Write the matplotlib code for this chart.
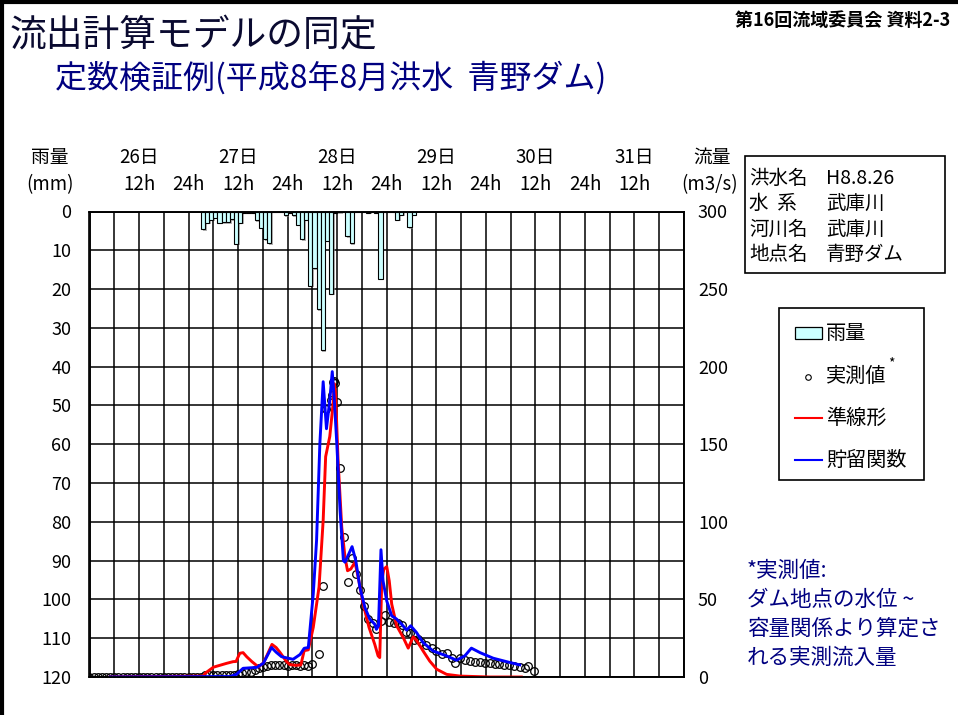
import numpy as np
import matplotlib
matplotlib.use("Agg")
import matplotlib.pyplot as plt
import matplotlib.patheffects as pe
from matplotlib.patches import Rectangle
from matplotlib.lines import Line2D

plt.rcParams['font.family'] = ['Noto Sans CJK JP', 'DejaVu Sans']

# 時間 (h): 26日 0時 = 0
rain_t = np.arange(27, 79)
rain_mm = [4.5, 2.9, 2.1, 1.6, 2.9, 2.7, 2.7, 1.9, 8.3, 2.9,
           0.3, 0.3, 0.3, 2.3, 4.2, 7.2, 8.1, 0, 0, 0,
           1.0, 0.3, 1.0, 3.4, 7.2, 2.1, 19.1, 14.6, 25.1, 35.7,
           7.5, 21.2, 0.3, 0.2, 0, 6.4, 8.1, 0, 0, 0,
           0.3, 0, 0.3, 17.3, 0, 0, 0, 2.1, 0.8, 0,
           4.0, 0.8]

obs_t = list(range(0, 55)) + [
    55.6, 56.6, 57.4, 58.6, 58.8, 59.1, 59.3, 59.5, 59.9, 60.7,
    61.6, 62.7, 63.6, 64.5, 65.6, 66.5, 67.5, 68.6, 69.5, 70.6,
    71.5, 72.6, 73.7, 74.8, 75.6, 76.6, 77.6, 78.5, 79.5, 80.4,
    81.6, 82.9, 84.0, 85.3, 86.5, 87.7, 88.5, 89.7, 90.9, 92.1,
    93.3, 94.5, 95.7, 96.9, 98.1, 99.3, 100.5, 101.7, 102.9, 104.2,
    105.4, 106.3, 107.6]
obs_q = [0.3] * 28 + [1.0] * 8 + [
    2.0, 2.4, 3.0, 3.4, 4.5, 5.6, 6.6, 7.3, 7.7, 7.5,
    7.7, 7.5, 7.3, 7.7, 7.5, 7.3, 7.5, 7.0, 8.4] + [
    14.7, 58.6, 172.5, 178.5, 182, 190, 190.5, 189.5, 177, 135,
    90.5, 61.2, 76.7, 66.4, 56, 45.8, 37.2, 35, 30.7, 36.3,
    40, 35.6, 35.1, 34.6, 33.6, 29.2, 28.2, 23.8, 24.4, 22.8,
    20.6, 18.5, 16.8, 15.1, 15.7, 12.5, 9.3, 12.1, 10.8, 10.3,
    9.9, 9.5, 9.2, 8.9, 8.5, 8.2, 7.9, 7.5, 7.0, 6.5,
    5.6, 7.1, 3.9]

red_t = [5, 27.6, 28.0, 30.0, 33.2, 34.8, 35.5, 36.4, 37.2, 38.1,
         39.3, 40.9, 42.1, 43.0, 44.2, 45.2, 46.1, 47.7, 48.5, 50.0,
         51.2, 52.0, 53.0, 54.2, 55.6, 56.6, 57.2, 58.2, 59.0, 59.3,
         59.6, 60.2, 61.1, 61.9, 62.5, 63.3, 64.3, 65.1, 66.3, 67.7,
         69.1, 69.9, 70.3, 70.8, 71.3, 72.0, 72.6, 73.2, 74.4, 76.0,
         77.2, 78.4, 79.2, 80.8, 82.4, 84.1, 86.5, 89.7, 97.0, 104.6]
red_q = [0, 0.6, 2.4, 6.3, 8.8, 9.9, 10, 15.3, 15.7, 13,
         10, 6.5, 9, 14, 21, 19, 16, 10, 8, 7.5,
         7.8, 17, 17.5, 32, 58, 101, 142, 155, 176, 189,
         183, 140, 96.5, 77, 68.5, 69.6, 74, 64, 47, 32,
         21, 13.6, 12.5, 62, 69.6, 71.1, 62, 47, 33, 25.4,
         18.6, 25.9, 23.7, 16.8, 10.3, 5, 1.7, 0.6, 0, 0]

blue_t = [5, 34.0, 35.6, 37.2, 40.5, 42.1, 44.1, 45.2, 46.5, 49.3,
          51.0, 52.0, 53.0, 54.2, 55.0, 55.8, 56.6, 57.4, 58.2, 58.8,
          59.3, 59.9, 60.7, 61.5, 61.9, 62.8, 63.6, 64.5, 65.5, 66.7,
          67.9, 69.1, 69.5, 70.0, 70.6, 71.1, 72.0, 73.2, 74.4, 75.6,
          76.8, 77.8, 79.2, 80.8, 83.2, 86.5, 88.9, 90.9, 92.5, 94.6,
          97.8, 101.0, 104.2]
blue_q = [0, 0.3, 1.7, 5.6, 6.2, 8.8, 19, 16, 13.1, 11.4,
          14.5, 18.5, 19, 53.5, 88, 150.5, 190.3, 160, 178.5, 196.8,
          178.5, 150.5, 107, 75, 74, 79.3, 84, 75, 57.7, 44.8,
          37.3, 34, 30.7, 33, 82, 62, 49, 39.4, 37.3, 34.1,
          30.2, 33, 28.7, 22.2, 16.8, 13.6, 10.8, 13.6, 18.6, 15.7,
          12.1, 9.9, 7.8]

days = ['26日', '27日', '28日', '29日', '30日', '31日']
hours = ['12h', '24h'] * 5 + ['12h']

W, H = 958, 715


def fx(x):
    return x / W


def fy(y):
    return 1 - y / H


fig = plt.figure(figsize=(W / 100, H / 100), dpi=100)
fig.patch.set_facecolor('white')

L, R, T, B = 89.5, 684, 211.5, 677
ax = fig.add_axes([fx(L), fy(B), (R - L) / W, (B - T) / H])
ax2 = ax.twinx()

# 雨量 (上から下向き)
ax.bar(rain_t, rain_mm, width=1, align='edge', color='#CCFFFF',
       edgecolor='black', linewidth=0.8, zorder=3,
       path_effects=[pe.SimplePatchShadow(offset=(1.2, -1.2), shadow_rgbFace='gray', alpha=0.6),
                     pe.Normal()])
ax.set_xlim(0, 144)
ax.set_ylim(120, 0)
ax.set_xticks(np.arange(0, 145, 6))
ax.set_yticks(np.arange(0, 121, 10))
ax.grid(True, color='black', linewidth=1.1)
ax.set_axisbelow(True)
ax.tick_params(axis='x', length=0, labelbottom=False)
ax.tick_params(axis='y', length=0, pad=13, labelsize=13)

# 流量
ax2.plot(obs_t, obs_q, linestyle='none', marker='o', markersize=5.5,
         markerfacecolor='none', markeredgecolor='black', markeredgewidth=0.9)
ax2.plot(red_t, red_q, color='#FF0000', linewidth=2.1)
ax2.plot(blue_t, blue_q, color='#0000FF', linewidth=2.1)
ax2.set_ylim(0, 300)
ax2.set_yticks(np.arange(0, 301, 50))
ax2.tick_params(axis='y', length=0, pad=10, labelsize=13)

for a in (ax, ax2):
    for s in a.spines.values():
        s.set_linewidth(1.2)
        s.set_color('black')

tr = ax.get_xaxis_transform()
for i, d in enumerate(days):
    ax.text(12 + 24 * i, (B - 157) / (B - T), d, transform=tr,
            ha='center', va='center', fontsize=13.5)
for i, hh in enumerate(hours):
    ax.text(12 + 12 * i, (B - 185) / (B - T), hh, transform=tr,
            ha='center', va='center', fontsize=13.5)

fig.text(fx(50), fy(157), '雨量', ha='center', va='center', fontsize=13.5)
fig.text(fx(50), fy(185), '(mm)', ha='center', va='center', fontsize=13.5)
fig.text(fx(712), fy(157), '流量', ha='center', va='center', fontsize=13.5)
fig.text(fx(710), fy(185), '(m3/s)', ha='center', va='center', fontsize=13.5)

# タイトル
fig.text(fx(10), fy(36), '流出計算モデルの同定', ha='left', va='center',
         fontsize=26.5, color='#0a0a30')
fig.text(fx(55), fy(78), '定数検証例(平成8年8月洪水  青野ダム)', ha='left', va='center',
         fontsize=23, color='#000080')
fig.text(fx(950), fy(20), '第16回流域委員会 資料2-3', ha='right', va='center',
         fontsize=13, fontweight='bold', color='black')

# 情報ボックス
fig.add_artist(Rectangle((fx(745), fy(273)), (945 - 745) / W, (273 - 156) / H,
                         transform=fig.transFigure, fill=False, edgecolor='black', linewidth=1.2))
info = [('洪水名', 'H8.8.26'), ('水  系', '武庫川'), ('河川名', '武庫川'), ('地点名', '青野ダム')]
for i, (k, v) in enumerate(info):
    y = 178 + 25.5 * i
    fig.text(fx(749), fy(y), k, ha='left', va='center', fontsize=14)
    fig.text(fx(826), fy(y), v, ha='left', va='center', fontsize=14)

# 凡例
fig.add_artist(Rectangle((fx(779), fy(480)), (924 - 779) / W, (480 - 308) / H,
                         transform=fig.transFigure, fill=False, edgecolor='black', linewidth=1.2))
fig.add_artist(Rectangle((fx(795), fy(339)), 27 / W, 12 / H, transform=fig.transFigure,
                         facecolor='#CCFFFF', edgecolor='black', linewidth=0.9))
fig.add_artist(Line2D([fx(808)], [fy(377)], transform=fig.transFigure, marker='o',
                      markersize=4, markerfacecolor='none', markeredgecolor='black',
                      markeredgewidth=0.8, linestyle='none'))
fig.add_artist(Line2D([fx(795), fx(822)], [fy(418), fy(418)], transform=fig.transFigure,
                      color='#FF0000', linewidth=1.5))
fig.add_artist(Line2D([fx(795), fx(822)], [fy(460), fy(460)], transform=fig.transFigure,
                      color='#0000FF', linewidth=1.5))
for y, lab in zip([333, 376, 418, 460], ['雨量', '実測値', '準線形', '貯留関数']):
    fig.text(fx(826), fy(y), lab, ha='left', va='center', fontsize=14.5)
fig.text(fx(888), fy(363), '*', ha='left', va='center', fontsize=10)

# 注記
note = ['*実測値:', 'ダム地点の水位 ~', '容量関係より算定さ', 'れる実測流入量']
for i, line in enumerate(note):
    fig.text(fx(747), fy(571 + 29 * i), line, ha='left', va='center',
             fontsize=15.5, color='#000080')

# 外枠
fig.add_artist(Line2D([0, 1], [fy(2), fy(2)], transform=fig.transFigure, color='black', linewidth=3))
fig.add_artist(Line2D([fx(2), fx(2)], [0, 1], transform=fig.transFigure, color='black', linewidth=3))

fig.savefig('out.png', dpi=100)
